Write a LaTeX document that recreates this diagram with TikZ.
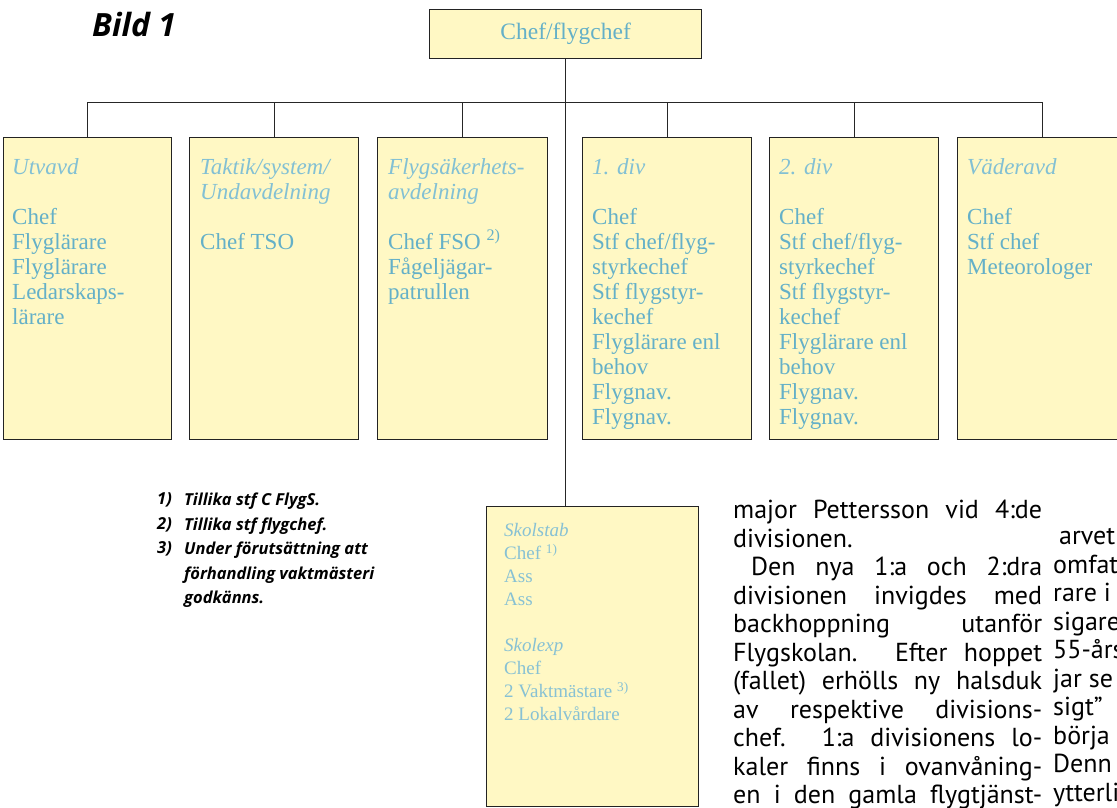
\documentclass[tikz,border=0pt]{standalone}
\usepackage{fontspec}
\setmainfont{Liberation Serif}
\setsansfont{PT Sans}
\newfontfamily\titlefont{Open Sans}
\definecolor{boxfill}{RGB}{255,248,196}
\definecolor{boxtext}{RGB}{100,176,200}
\definecolor{boxhead}{RGB}{130,192,212}
\definecolor{softtext}{RGB}{135,193,212}
\definecolor{framec}{RGB}{35,35,35}
\newcommand{\jline}[2][309pt]{\makebox[#1][s]{#2}}
\begin{document}
\begin{tikzpicture}[x=1pt,y=-1pt,
  orgbox/.style={draw=framec, line width=1.3pt, fill=boxfill, inner sep=0pt, anchor=north west},
  boxtxt/.style={anchor=north west, inner sep=0pt, align=left, text=boxtext, font=\fontsize{23}{25}\selectfont},
  softtxt/.style={anchor=north west, inner sep=0pt, align=left, text=softtext, font=\fontsize{19}{23}\selectfont},
  conn/.style={draw=black!85, line width=0.9pt},
  bodytxt/.style={anchor=north west, inner sep=0pt, align=left, font=\sffamily\fontsize{26}{28.5}\selectfont},
  notetxt/.style={anchor=north west, inner sep=0pt, align=left, font=\titlefont\bfseries\itshape\fontsize{16.5}{24.5}\selectfont}
]
\useasboundingbox (0,0) rectangle (1117,808);
\fill[white] (0,0) rectangle (1117,808);

% title
\node[anchor=base west, inner sep=0pt, font=\titlefont\bfseries\itshape\fontsize{32}{34}\selectfont] (title) at (92,37) {Bild 1};

% top box
\node[orgbox, minimum width=272pt, minimum height=49pt] (chef) at (429,9) {};
\node[text=boxtext, font=\fontsize{23.5}{26}\selectfont, inner sep=0pt] (cheft) at (chef.center) {Chef/flygchef};

% department boxes
\node[orgbox, minimum width=168pt, minimum height=302pt] (b1) at (3,137) {};
\node[orgbox, minimum width=169pt, minimum height=302pt] (b2) at (189,137) {};
\node[orgbox, minimum width=170pt, minimum height=302pt] (b3) at (377,137) {};
\node[orgbox, minimum width=169pt, minimum height=302pt] (b4) at (582,137) {};
\node[orgbox, minimum width=169pt, minimum height=302pt] (b5) at (769,137) {};
\node[orgbox, minimum width=169pt, minimum height=302pt] (b6) at (957,137) {};

\node[boxtxt] (t1) at (12,157) {\strut\textit{\color{boxhead}Utvavd}\\ ~\\ Chef\\ Flyglärare\\ Flyglärare\\ Ledarskaps-\\ lärare};
\node[boxtxt] (t2) at (200,157) {\strut\textit{\color{boxhead}Taktik/system/}\\ \textit{\color{boxhead}Undavdelning}\\ ~\\ Chef TSO};
\node[boxtxt] (t3) at (388,157) {\strut\textit{\color{boxhead}Flygsäkerhets-}\\ \textit{\color{boxhead}avdelning}\\ ~\\ Chef FSO \textsuperscript{2)}\\ Fågeljägar-\\ patrullen};
\node[boxtxt] (t4) at (592,157) {\strut\textit{\color{boxhead}1. div}\\ ~\\ Chef\\ Stf chef/flyg-\\ styrkechef\\ Stf flygstyr-\\ kechef\\ Flyglärare enl\\ behov\\ Flygnav.\\ Flygnav.};
\node[boxtxt] (t5) at (779,157) {\strut\textit{\color{boxhead}2. div}\\ ~\\ Chef\\ Stf chef/flyg-\\ styrkechef\\ Stf flygstyr-\\ kechef\\ Flyglärare enl\\ behov\\ Flygnav.\\ Flygnav.};
\node[boxtxt] (t6) at (967,157) {\strut\textit{\color{boxhead}Väderavd}\\ ~\\ Chef\\ Stf chef\\ Meteorologer};

% school box
\node[orgbox, minimum width=212pt, minimum height=300pt] (skol) at (486,506) {};
\node[softtxt] (ts) at (504,520) {\strut\textit{Skolstab}\\ Chef \textsuperscript{1)}\\ Ass\\ Ass\\[23pt] \textit{Skolexp}\\ Chef\\ 2 Vaktmästare \textsuperscript{3)}\\ 2 Lokalvårdare};

% connectors
\coordinate (bus) at (564,102);
\draw[conn] (chef.south) -- (chef.south |- skol.north);
\draw[conn] (b1.north) -- (b1.north |- bus) -- (b6.north |- bus) -- (b6.north);
\draw[conn] (b2.north) -- (b2.north |- bus);
\draw[conn] (b3.north) -- (b3.north |- bus);
\draw[conn] (b4.north) -- (b4.north |- bus);
\draw[conn] (b5.north) -- (b5.north |- bus);

% footnotes
\node[notetxt] (n1) at (157,493) {1)\\ 2)\\ 3)};
\node[notetxt] (n2) at (184,493) {Tillika stf C FlygS.\\ Tillika stf flygchef.\\ Under förutsättning att\\ förhandling vaktmästeri\\ godkänns.};

% body text column 1
\node[bodytxt] (col1) at (733,500) {\jline{major Pettersson vid 4:de}\\
divisionen.\\
\hspace*{18pt}\jline[291pt]{Den nya 1:a och 2:dra}\\
\jline{divisionen invigdes med}\\
\jline{backhoppning utanför}\\
\jline{Flygskolan. Efter hoppet}\\
\jline{(fallet) erhölls ny halsduk}\\
\jline{av respektive divisions-}\\
\jline{chef. 1:a divisionens lo-}\\
\jline{kaler finns i ovanvåning-}\\
\jline{en i den gamla flygtjänst-}};

% body text column 2 (cut at the page edge)
\node[bodytxt] (col2) at (1053,528.5) {\hspace*{6pt}arvet\\ omfat\\ rare i\\ sigare\\ 55-års\\ jar se\\ sigt”\\ börja\\ Denn\\ ytterli};
\end{tikzpicture}
\end{document}
